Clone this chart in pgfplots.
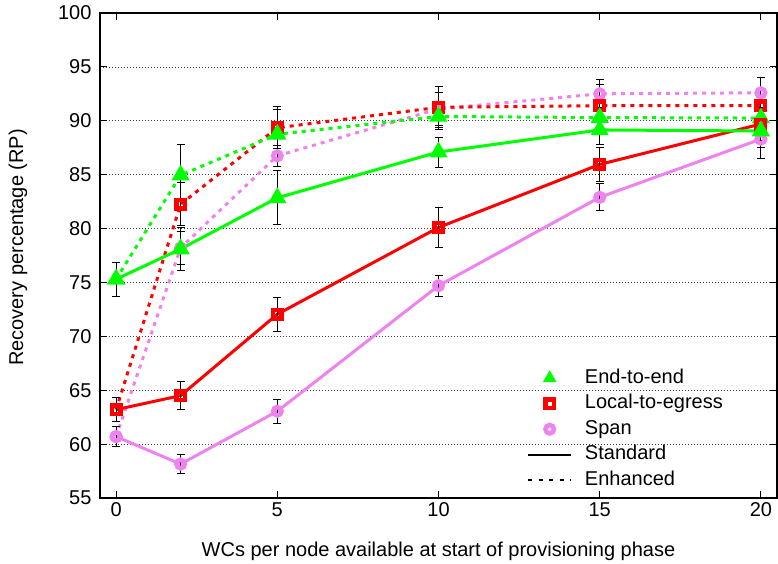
\documentclass[border=0pt]{standalone}
\usepackage{fontspec}
\setmainfont{Liberation Sans}
\usepackage{pgfplots}
\usepackage{pgfplotstable}
\pgfplotsset{compat=1.18}
\definecolor{gpgreen}{RGB}{0,255,0}
\definecolor{gpred}{RGB}{255,0,0}
\definecolor{gpviolet}{RGB}{238,130,238}

\pgfplotstableread{
x y e
0 75.3 1.6
2 78.1 2.0
5 82.85 2.5
10 87.1 1.4
15 89.15 1.3
20 89.05 1.5
}\eestd
\pgfplotstableread{
x y e
0 75.3 1.6
2 84.95 2.85
5 88.75 2.3
10 90.4 1.2
15 90.3 1.3
20 90.25 1.4
}\eeenh
\pgfplotstableread{
x y e
0 63.2 1.1
2 64.5 1.3
5 72.05 1.6
10 80.1 1.85
15 85.95 1.6
20 89.7 1.5
}\lestd
\pgfplotstableread{
x y e
0 63.2 1.1
2 82.25 2.0
5 89.35 1.95
10 91.25 1.9
15 91.4 2.0
20 91.4 1.6
}\leenh
\pgfplotstableread{
x y e
0 60.7 0.95
2 58.15 0.85
5 63.05 1.1
10 74.7 1.0
15 82.9 1.25
20 88.3 1.8
}\spstd
\pgfplotstableread{
x y e
0 60.7 0.95
2 78.2 1.5
5 86.75 1.0
10 91.1 1.5
15 92.5 1.3
20 92.6 1.4
}\spenh

\begin{document}
\begin{tikzpicture}
\path[use as bounding box] (-100pt,-65pt) rectangle (678pt,498pt);
\begin{axis}[
  at={(0pt,0pt)}, anchor=south west,
  scale only axis, width=677pt, height=485pt,
  xmin=-0.5, xmax=20.5, ymin=55, ymax=100,
  xtick={0,5,10,15,20},
  ytick={55,60,65,70,75,80,85,90,95,100},
  tick align=inside,
  major tick length=7pt,
  every tick/.style={black, line width=1pt},
  axis line style={black, line width=1.3pt},
  ymajorgrids,
  major grid style={black!75, line width=0.7pt, dash pattern=on 1pt off 2pt},
  /pgf/number format/assume math mode=true,
  tick label style={font=\fontsize{20}{24}\selectfont},
  yticklabel style={xshift=-5pt},
  xticklabel style={yshift=-1.3pt},
  label style={font=\fontsize{20}{24}\selectfont},
  xlabel={WCs per node available at start of provisioning phase},
  ylabel={Recovery percentage (RP)},
  xlabel style={at={(axis description cs:0.5,0)}, anchor=base, yshift=-58pt},
  ylabel style={at={(axis description cs:-0.1211,0.5165)}, anchor=center},
  legend image code/.code={\draw[mark repeat=2,mark phase=2,#1] plot coordinates {(0pt,0pt) (21.5pt,0pt) (43pt,0pt)};},
  legend style={at={(0.631,0.268)}, anchor=north west, draw=none, fill=none,
    inner sep=0pt, row sep=5.5pt, column sep=13pt,
    font=\fontsize{20}{24}\selectfont,
    nodes={inner sep=0pt, text height=15pt, text depth=5pt}},
  legend cell align=left,
  eb/.style={error bars/y dir=both, error bars/y explicit,
    error bars/error mark=-,
    error bars/error bar style={black, solid, line width=0.8pt},
    error bars/error mark options={rotate=90, black, solid, line width=0.8pt, mark size=4pt}},
  enh/.style={dash pattern=on 4pt off 5pt},
  mkv/.style={mark=o, mark size=4.25pt, mark options={solid, line width=4.5pt}},
  mkr/.style={mark=square, mark size=4.25pt, mark options={solid, line width=4.5pt}},
  mkg/.style={mark=triangle*, mark size=7.5pt, mark options={solid}},
]
% enhanced
\addplot[forget plot, gpviolet, line width=3pt, enh, mkv, eb] table[x=x, y=y, y error=e] {\spenh};
\addplot[forget plot, gpred, line width=3pt, enh, mkr, eb] table[x=x, y=y, y error=e] {\leenh};
\addplot[forget plot, gpgreen, line width=3pt, enh, mkg, eb] table[x=x, y=y, y error=e] {\eeenh};
% standard
\addplot[forget plot, gpviolet, line width=3pt, mkv, eb] table[x=x, y=y, y error=e] {\spstd};
\addplot[forget plot, gpred, line width=3pt, mkr, eb] table[x=x, y=y, y error=e] {\lestd};
\addplot[forget plot, gpgreen, line width=3pt, mkg, eb] table[x=x, y=y, y error=e] {\eestd};

\addlegendimage{only marks, gpgreen, mkg}
\addlegendentry{End-to-end}
\addlegendimage{only marks, gpred, mkr}
\addlegendentry{Local-to-egress}
\addlegendimage{only marks, gpviolet, mkv}
\addlegendentry{Span}
\addlegendimage{black, line width=1.6pt}
\addlegendentry{Standard}
\addlegendimage{black, line width=1.6pt, dash pattern=on 4pt off 6.5pt}
\addlegendentry{Enhanced}
\end{axis}
\end{tikzpicture}
\end{document}
